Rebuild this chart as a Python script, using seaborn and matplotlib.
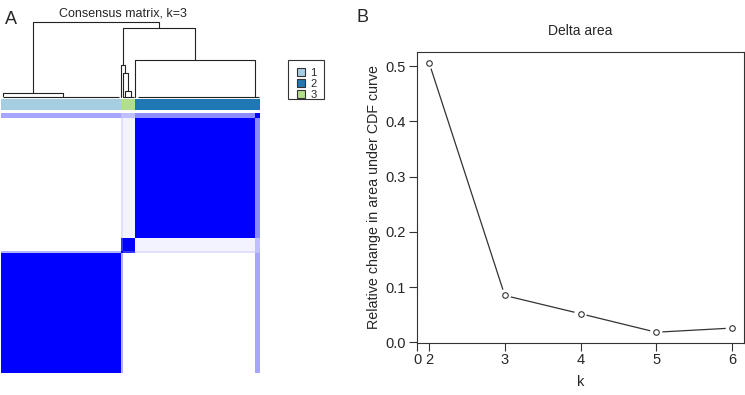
import numpy as np
import pandas as pd
import matplotlib
matplotlib.use('Agg')
import matplotlib.pyplot as plt
from matplotlib.colors import LinearSegmentedColormap, ListedColormap
from matplotlib.patches import Patch, Rectangle
import seaborn as sns

# ---- panel A data: consensus matrix for k=3 ----
# clusters in the order they appear from left to right
cluster_names = ['1', '3', '2']
cluster_sizes = [48, 6, 50]
cluster_colors = {'1': '#A6CEE3', '2': '#1F78B4', '3': '#B2DF8A'}

# mean consensus between blocks (rows/cols follow cluster_names)
block_consensus = [[1.00, 0.00, 0.00],
                   [0.00, 1.00, 0.05],
                   [0.00, 0.05, 1.00]]

# samples that do not sit cleanly in one cluster
# (position in ordering, consensus with clusters 1, 3, 2)
weak_positions = [48]
weak_consensus = [[0.30, 0.80, 0.12]]
mixed_positions = [102, 103]
mixed_consensus = [[0.35, 0.25, 0.45], [0.35, 0.25, 0.45]]

# dendrogram: leaves (position in sample order, height) and merges
dendro_leaves = {'c1a': (0.8, 0.012), 'c1b': (24.9, 0.0),
                 'c3a': (48.0, 0.0), 'c3b': (48.9, 0.0),
                 'c3c': (49.8, 0.0), 'c3d': (52.3, 0.0),
                 'c2a': (54.0, 0.0), 'c2b': (102.0, 0.0)}
dendro_merges = [('c1', 'c1a', 'c1b', 0.05),
                 ('c3x', 'c3c', 'c3d', 0.08),
                 ('c3y', 'c3b', 'c3x', 0.32),
                 ('c3', 'c3a', 'c3y', 0.43),
                 ('c2', 'c2a', 'c2b', 0.49),
                 ('c23', 'c3', 'c2', 0.92),
                 ('root', 'c1', 'c23', 1.00)]

# ---- panel B data: delta area ----
k_values = [2, 3, 4, 5, 6]
delta_area = [0.506, 0.085, 0.052, 0.0185, 0.026]


# builds the sample-by-sample consensus matrix from the block values
def build_matrix():
    labels = np.repeat(np.arange(len(cluster_sizes)), cluster_sizes)
    blocks = np.array(block_consensus)
    mat = blocks[labels][:, labels].copy()
    for pos, vals in zip(weak_positions + mixed_positions,
                         weak_consensus + mixed_consensus):
        row = np.array(vals)[labels]
        mat[pos, :] = row
        mat[:, pos] = row
    for a in mixed_positions:
        for b in mixed_positions:
            mat[a, b] = 1.0
    np.fill_diagonal(mat, 1.0)
    return mat, labels


sns.set_theme(style='white')
plt.rcParams['font.family'] = ['Liberation Sans', 'DejaVu Sans']

fig = plt.figure(figsize=(7.45, 3.95), dpi=100)
W, H = 745.0, 395.0


def px_axes(x0, y0, x1, y1):
    return fig.add_axes([x0 / W, 1 - y1 / H, (x1 - x0) / W, (y1 - y0) / H])


mat, labels = build_matrix()
n = mat.shape[0]

# heatmap (last sample on the top row, like R's image)
ax_heat = px_axes(1, 113, 260, 373)
blues = LinearSegmentedColormap.from_list('cc', ['#FFFFFF', '#0000FF'])
sns.heatmap(pd.DataFrame(mat[::-1]), ax=ax_heat, cmap=blues, vmin=0, vmax=1,
            cbar=False, xticklabels=False, yticklabels=False)

# cluster colour bar
ax_bar = px_axes(1, 99, 260, 110)
bar_codes = np.array([[cluster_names[i] for i in labels]])
code_order = ['1', '2', '3']
sns.heatmap(pd.DataFrame(np.vectorize(code_order.index)(bar_codes)), ax=ax_bar,
            cmap=ListedColormap([cluster_colors[c] for c in code_order]),
            vmin=-0.5, vmax=2.5, cbar=False, xticklabels=False, yticklabels=False)

# dendrogram
ax_den = px_axes(1, 22, 260, 97)
nodes = dict(dendro_leaves)
for parent, left, right, h in dendro_merges:
    xl, hl = nodes[left]
    xr, hr = nodes[right]
    ax_den.plot([xl, xl, xr, xr], [hl, h, h, hr], color='#222222', lw=0.8,
                clip_on=False)
    nodes[parent] = ((xl + xr) / 2, h)
edges = np.cumsum([0] + cluster_sizes)
ax_den.hlines(np.zeros(len(cluster_sizes)), edges[:-1] + 1, edges[1:] - 0.5,
              color='#222222', lw=0.8, clip_on=False)
ax_den.set_xlim(0, n)
ax_den.set_ylim(0, 1)
ax_den.axis('off')

fig.text(123 / W, 1 - 13 / H, 'Consensus matrix, k=3', ha='center', va='center',
         fontsize=9)
fig.text(11 / W, 1 - 19 / H, 'A', ha='center', va='center', fontsize=13)

# legend: R-style box, wider padding left/right than top/bottom
fig.patches.append(Rectangle((288 / W, 1 - 99 / H), 36 / W, 39 / H,
                             transform=fig.transFigure, facecolor='white',
                             edgecolor='#333333', lw=0.8))
handles = [Patch(facecolor=cluster_colors[c], edgecolor='#333333', lw=0.8, label=c)
           for c in code_order]
fig.legend(handles=handles, loc='upper left',
           bbox_to_anchor=(297 / W, 1 - 67.5 / H), fontsize=8,
           frameon=False, handlelength=0.7, handleheight=0.7,
           handletextpad=0.5, borderpad=0, labelspacing=0.1,
           borderaxespad=0)

# ---- panel B ----
ax = px_axes(417, 52, 744, 343)
sns.lineplot(x=k_values, y=delta_area, ax=ax, color='#333333', lw=0.9)
sns.scatterplot(x=k_values, y=delta_area, ax=ax, s=80, color='white',
                edgecolor='none', zorder=3)
sns.scatterplot(x=k_values, y=delta_area, ax=ax, s=16, facecolor='white',
                edgecolor='#333333', linewidth=0.8, zorder=4)
span = max(delta_area) - min(delta_area)
ax.set_xlim(2 - 0.16, 6 + 0.16)
ax.set_ylim(min(delta_area) - 0.04 * span, max(delta_area) + 0.04 * span)
ax.set_xticks([ax.get_xlim()[0]] + k_values)
ax.set_xticklabels(['0'] + [str(k) for k in k_values])
ax.set_yticks([0.0, 0.1, 0.2, 0.3, 0.4, 0.5])
ax.set_yticklabels(['0.0', '0.1', '0.2', '0.3', '0.4', '0.5'])
ax.tick_params(axis='both', direction='out', length=6, width=0.8,
               color='#333333', labelsize=10.5, bottom=True, left=True)
ax.tick_params(axis='x', pad=1)
ax.tick_params(axis='y', pad=2)
for sp in ax.spines.values():
    sp.set_color('#333333')
    sp.set_linewidth(0.8)
ax.set_xlabel('k', fontsize=10.5, labelpad=6)
ax.set_ylabel('Relative change in area under CDF curve', fontsize=10.3, labelpad=3)
ax.set_title('Delta area', fontsize=10, pad=12)
fig.text(363 / W, 1 - 18 / H, 'B', ha='center', va='center', fontsize=13)

fig.savefig('out.png', dpi=100)
